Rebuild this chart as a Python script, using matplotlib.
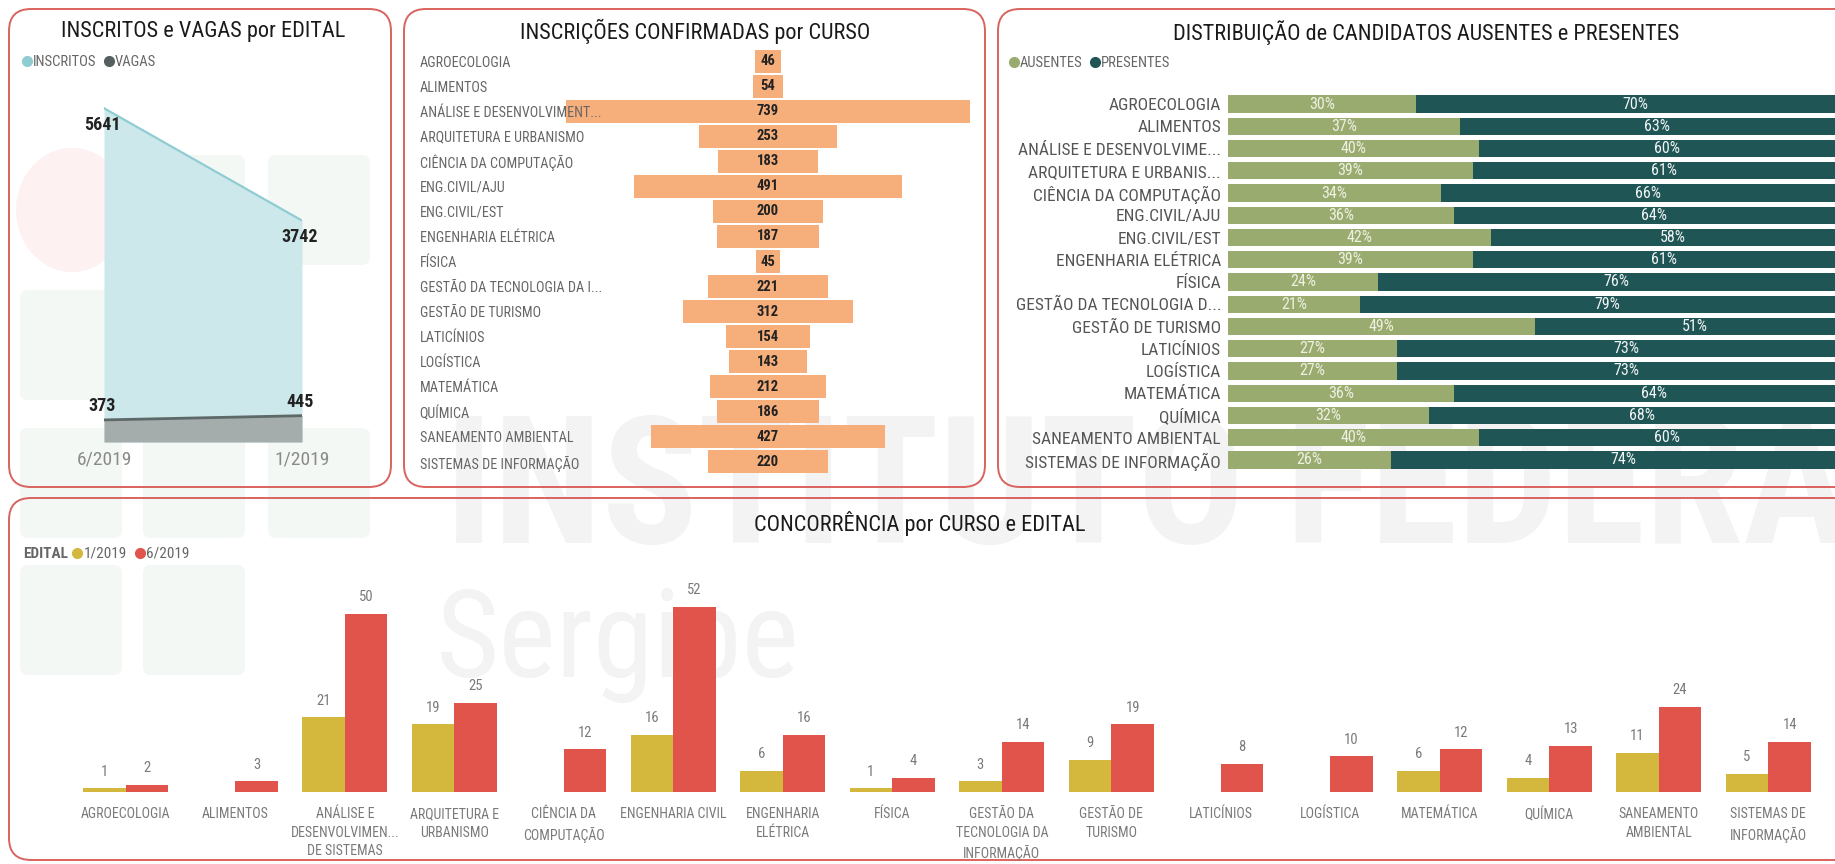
import numpy as np
import matplotlib
matplotlib.use("Agg")
import matplotlib.pyplot as plt
from matplotlib.patches import FancyBboxPatch, Ellipse
from matplotlib.lines import Line2D
import matplotlib.font_manager as fm

# ---------------- DATA ----------------
editais = ["6/2019", "1/2019"]
inscritos = [5641, 3742]
vagas = [373, 445]

cursos_conf = ["AGROECOLOGIA", "ALIMENTOS", "ANÁLISE E DESENVOLVIMENT...",
               "ARQUITETURA E URBANISMO", "CIÊNCIA DA COMPUTAÇÃO", "ENG.CIVIL/AJU",
               "ENG.CIVIL/EST", "ENGENHARIA ELÉTRICA", "FÍSICA",
               "GESTÃO DA TECNOLOGIA DA I...", "GESTÃO DE TURISMO", "LATICÍNIOS",
               "LOGÍSTICA", "MATEMÁTICA", "QUÍMICA", "SANEAMENTO AMBIENTAL",
               "SISTEMAS DE INFORMAÇÃO"]
confirmadas = [46, 54, 739, 253, 183, 491, 200, 187, 45, 221, 312, 154, 143, 212, 186, 427, 220]

cursos_pres = ["AGROECOLOGIA", "ALIMENTOS", "ANÁLISE E DESENVOLVIME...",
               "ARQUITETURA E URBANIS...", "CIÊNCIA DA COMPUTAÇÃO", "ENG.CIVIL/AJU",
               "ENG.CIVIL/EST", "ENGENHARIA ELÉTRICA", "FÍSICA",
               "GESTÃO DA TECNOLOGIA D...", "GESTÃO DE TURISMO", "LATICÍNIOS",
               "LOGÍSTICA", "MATEMÁTICA", "QUÍMICA", "SANEAMENTO AMBIENTAL",
               "SISTEMAS DE INFORMAÇÃO"]
ausentes_pct = [30, 37, 40, 39, 34, 36, 42, 39, 24, 21, 49, 27, 27, 36, 32, 40, 26]
presentes_pct = [70, 63, 60, 61, 66, 64, 58, 61, 76, 79, 51, 73, 73, 64, 68, 60, 74]

cursos_conc = ["AGROECOLOGIA", "ALIMENTOS", "ANÁLISE E\nDESENVOLVIMEN...\nDE SISTEMAS",
               "ARQUITETURA E\nURBANISMO", "CIÊNCIA DA\nCOMPUTAÇÃO", "ENGENHARIA CIVIL",
               "ENGENHARIA\nELÉTRICA", "FÍSICA", "GESTÃO DA\nTECNOLOGIA DA\nINFORMAÇÃO",
               "GESTÃO DE\nTURISMO", "LATICÍNIOS", "LOGÍSTICA", "MATEMÁTICA", "QUÍMICA",
               "SANEAMENTO\nAMBIENTAL", "SISTEMAS DE\nINFORMAÇÃO"]
conc_1_2019 = [1, np.nan, 21, 19, np.nan, 16, 6, 1, 3, 9, np.nan, np.nan, 6, 4, 11, 5]
conc_6_2019 = [2, 3, 50, 25, 12, 52, 16, 4, 14, 19, 8, 10, 12, 13, 24, 14]

# ---------------- FONTS ----------------
names = {f.name for f in fm.fontManager.ttflist}
FONT = "DejaVu Sans"
for cand in ["Liberation Sans Narrow", "Roboto Condensed", "DejaVu Sans Condensed", "Roboto"]:
    if cand in names:
        FONT = cand
        break
plt.rcParams["font.family"] = [FONT, "DejaVu Sans"]

W, H, DPI = 1835, 864, 100
fig = plt.figure(figsize=(W / DPI, H / DPI), dpi=DPI)
fig.patch.set_facecolor("white")

bg = fig.add_axes([0, 0, 1, 1], zorder=0)
bg.set_xlim(0, W)
bg.set_ylim(H, 0)
bg.axis("off")


def px_axes(x0, y0, x1, y1):
    ax = fig.add_axes([x0 / W, 1 - y1 / H, (x1 - x0) / W, (y1 - y0) / H], zorder=2)
    ax.patch.set_visible(False)
    for s in ax.spines.values():
        s.set_visible(False)
    return ax


def fxy(x, y):
    return (x / W, 1 - y / H)

# ---------------- WATERMARK ----------------
wm = "#f3f3f3"
sq = "#f4f8f4"
bg.add_patch(Ellipse((72, 210), 112, 124, color="#fdf1f1", lw=0, zorder=0))
for (x0, y0) in [(143, 155), (268, 155), (20, 290), (143, 290),
                 (20, 428), (143, 428), (268, 428), (20, 565), (143, 565)]:
    bg.add_patch(FancyBboxPatch((x0, y0), 102, 110, boxstyle="round,pad=0,rounding_size=8",
                                color=sq, lw=0, zorder=0))
bg.text(445, 543, "INSTITUTO FEDERAL", fontsize=128, fontweight="bold", color=wm,
        va="baseline", ha="left", zorder=0.5, family=[FONT])
bg.text(436, 677, "Sergipe", fontsize=88, color=wm, va="baseline", ha="left", zorder=0.5,
        family=[FONT])

# ---------------- PANEL BORDERS ----------------
border = "#d9635e"
for (x0, y0, x1, y1) in [(9, 9, 391, 487), (404, 9, 985, 487), (998, 9, 1860, 487),
                         (9, 498, 1860, 860)]:
    bg.add_patch(FancyBboxPatch((x0, y0), x1 - x0, y1 - y0,
                                boxstyle="round,pad=0,rounding_size=22",
                                fill=False, ec=border, lw=1.4, zorder=3))

TITLE_KW = dict(fontsize=16, color="#1a1a1a", ha="center", va="center", zorder=4)
bg.text(203, 31, "INSCRITOS e VAGAS por EDITAL", **TITLE_KW)
bg.text(695, 31, "INSCRIÇÕES CONFIRMADAS por CURSO", **TITLE_KW)
bg.text(1426, 33, "DISTRIBUIÇÃO de CANDIDATOS AUSENTES e PRESENTES", **TITLE_KW)
bg.text(920, 523, "CONCORRÊNCIA por CURSO e EDITAL", **TITLE_KW)


def mk(color):
    return Line2D([], [], marker="o", ls="", color=color, ms=7)


def small_legend(handles, labels, x, y, size=10.5):
    leg = fig.legend(handles, labels, loc="center left", bbox_to_anchor=fxy(x, y),
                     ncol=len(handles), frameon=False, handletextpad=0.05,
                     columnspacing=0.5, handlelength=0.7, borderaxespad=0, borderpad=0,
                     fontsize=size, labelcolor="#666666")
    return leg

# ---------------- PANEL 1 ----------------
c_ins_fill, c_ins_line = "#cde8ea", "#8fcdd3"
c_vag_fill, c_vag_line = "#a4acac", "#5d6868"
small_legend([mk(c_ins_line), mk("#555f5f")], ["INSCRITOS", "VAGAS"], 22, 62)

ax1 = px_axes(104, 100, 302, 442)
x1 = np.arange(len(editais))
ax1.fill_between(x1, inscritos, color=c_ins_fill, lw=0)
ax1.plot(x1, inscritos, color=c_ins_line, lw=1.6)
ax1.fill_between(x1, vagas, color=c_vag_fill, lw=0)
ax1.plot(x1, vagas, color=c_vag_line, lw=2)
ax1.set_xlim(0, len(editais) - 1)
ax1.set_ylim(0, 5780)
ax1.set_yticks([])
ax1.set_xticks(x1, editais)
ax1.tick_params(axis="x", length=0, pad=6, labelsize=14, labelcolor="#8a8a8a")
lab_kw = dict(textcoords="offset points", ha="center", va="center", fontsize=13,
              fontweight="bold", color="#222222")
for i, v in enumerate(inscritos):
    ax1.annotate(f"{v}", (x1[i], v), xytext=(-1.5, -12), **lab_kw)
for i, v in enumerate(vagas):
    ax1.annotate(f"{v}", (x1[i], v), xytext=(-1.5, 10), **lab_kw)

# ---------------- PANEL 2 ----------------
c_funnel = "#f6ae7b"
ax2 = px_axes(560, 48.5, 976, 474.5)
y2 = np.arange(len(cursos_conf))
conf = np.array(confirmadas)
bars2 = ax2.barh(y2, conf, left=-conf / 2, height=0.92, color=c_funnel, zorder=1)
ax2.bar_label(bars2, labels=[str(v) for v in confirmadas], label_type="center",
              fontsize=10.5, fontweight="bold", color="#222222")
ax2.set_xlim(-381, 381)
ax2.set_ylim(len(cursos_conf) - 0.5, -0.5)
ax2.set_xticks([])
ax2.set_yticks(y2, cursos_conf)
ax2.tick_params(axis="y", length=0, pad=101, labelsize=10.2, labelcolor="#666666")
for t in ax2.get_yticklabels():
    t.set_ha("left")
    t.set_zorder(5)

# ---------------- PANEL 3 ----------------
c_aus, c_pre = "#9aab6f", "#1f5555"
small_legend([mk(c_aus), mk(c_pre)], ["AUSENTES", "PRESENTES"], 1009, 63)
ax3 = px_axes(1228, 92.9, 1228 + 627, 471.1)
y3 = np.arange(len(cursos_pres))
aus = np.array(ausentes_pct) / 100
pre = np.array(presentes_pct) / 100
b_aus = ax3.barh(y3, aus, height=0.78, color=c_aus)
b_pre = ax3.barh(y3, pre, left=aus, height=0.78, color=c_pre)
ax3.bar_label(b_aus, labels=[f"{v}%" for v in ausentes_pct], label_type="center",
              fontsize=11.5, color="#eef1e2")
ax3.bar_label(b_pre, labels=[f"{v}%" for v in presentes_pct], label_type="center",
              fontsize=11.5, color="#f2f5f5")
ax3.set_xlim(0, 1)
ax3.set_ylim(len(cursos_pres) - 0.5, -0.5)
ax3.set_xticks([])
ax3.set_yticks(y3, cursos_pres)
ax3.tick_params(axis="y", length=0, pad=5, labelsize=12.5, labelcolor="#555555")

# ---------------- PANEL 4 ----------------
c_1, c_6 = "#d4b83e", "#e0544b"
t_ed = bg.text(23, 554, "EDITAL", fontsize=11, fontweight="bold", color="#666666",
               ha="left", va="center", zorder=4)
fig.canvas.draw()
bb = t_ed.get_window_extent(fig.canvas.get_renderer())
small_legend([mk(c_1), mk(c_6)], ["1/2019", "6/2019"], bb.x1 + 4, 554, size=11)

ax4 = px_axes(71, 580, 1823, 792)
x4 = np.arange(len(cursos_conc))
bw = 0.39
b1 = ax4.bar(x4 - bw / 2, conc_1_2019, width=bw, color=c_1)
b6 = ax4.bar(x4 + bw / 2, conc_6_2019, width=bw, color=c_6)
ax4.bar_label(b1, labels=["" if np.isnan(v) else f"{int(v)}" for v in conc_1_2019],
              padding=7, fontsize=10.5, color="#7a7a7a")
ax4.bar_label(b6, labels=[f"{v}" for v in conc_6_2019], padding=7, fontsize=10.5,
              color="#7a7a7a")
ax4.set_xlim(-0.5, len(cursos_conc) - 0.5)
ax4.set_ylim(0, 59.6)
ax4.set_yticks([])
ax4.set_xticks(x4, cursos_conc)
ax4.tick_params(axis="x", length=0, pad=11, labelsize=10, labelcolor="#7a7a7a")
for t in ax4.get_xticklabels():
    t.set_linespacing(1.4)
    t.set_va("top")

fig.savefig("out.png", dpi=DPI, facecolor="white")
